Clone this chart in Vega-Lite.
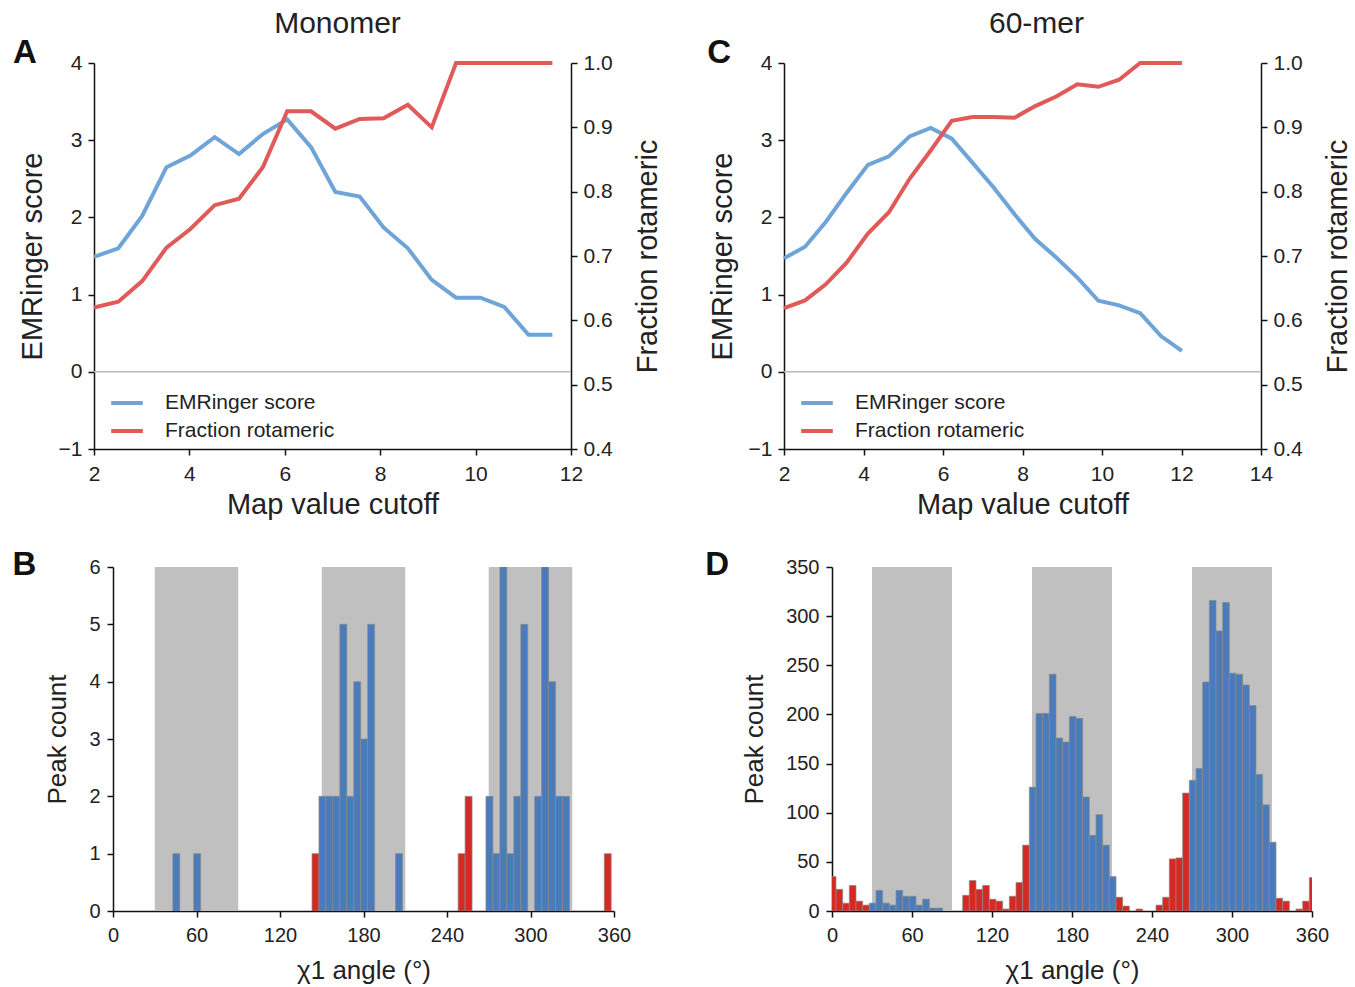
{
  "$schema": "https://vega.github.io/schema/vega-lite/v6.json",
  "background": "white",
  "padding": {"left": 11, "top": 9, "right": 2, "bottom": 2},
  "config": {
    "font": "Liberation Sans",
    "view": {"stroke": null},
    "axis": {
      "domainColor": "#111", "domainWidth": 1.5, "tickColor": "#111", "tickWidth": 1.5, "tickSize": 6,
      "labelFontSize": 21, "labelColor": "#222", "labelPadding": 6, "labelFlush": false,
      "titleFontSize": 29, "titleFontWeight": "normal", "titleColor": "#222", "titlePadding": 11, "grid": false
    },
    "axisBottom": {"labelPadding": 8, "titlePadding": 6, "labelFlush": false},
    "legend": {"labelLimit": 0},
    "title": {"fontSize": 30, "fontWeight": "normal", "color": "#222", "offset": -2}
  },
  "resolve": {"scale": {"color": "independent"}, "legend": {"color": "independent"}},
  "spacing": 30,
  "vconcat": [
    {
      "spacing": 0,
      "resolve": {"scale": {"color": "independent"}, "legend": {"color": "independent"}},
      "hconcat": [
        {"width": 1, "height": 1, "data": {"values": [{}]}, "mark": {"type": "text"}, "encoding": {"text": {"value": ""}}},
        {
          "hconcat": [
            {
              "width": 477, "height": 386,
              "title": {"text": "Monomer", "dx": 5},
              "data": {"values": [
                {"cutoff": 2.00, "score": 1.49, "frac": 0.620},
                {"cutoff": 2.51, "score": 1.60, "frac": 0.629},
                {"cutoff": 3.01, "score": 2.02, "frac": 0.661},
                {"cutoff": 3.52, "score": 2.65, "frac": 0.713},
                {"cutoff": 4.02, "score": 2.80, "frac": 0.742},
                {"cutoff": 4.53, "score": 3.04, "frac": 0.779},
                {"cutoff": 5.04, "score": 2.82, "frac": 0.789},
                {"cutoff": 5.54, "score": 3.08, "frac": 0.838},
                {"cutoff": 6.05, "score": 3.27, "frac": 0.925},
                {"cutoff": 6.55, "score": 2.91, "frac": 0.925},
                {"cutoff": 7.06, "score": 2.33, "frac": 0.898},
                {"cutoff": 7.57, "score": 2.27, "frac": 0.913},
                {"cutoff": 8.07, "score": 1.87, "frac": 0.914},
                {"cutoff": 8.58, "score": 1.60, "frac": 0.935},
                {"cutoff": 9.08, "score": 1.19, "frac": 0.900},
                {"cutoff": 9.59, "score": 0.96, "frac": 1.0},
                {"cutoff": 10.10, "score": 0.96, "frac": 1.0},
                {"cutoff": 10.60, "score": 0.84, "frac": 1.0},
                {"cutoff": 11.11, "score": 0.48, "frac": 1.0},
                {"cutoff": 11.61, "score": 0.48, "frac": 1.0}
              ]},
              "layer": [
                {
                  "layer": [
                    {
                      "data": {"values": [{}]},
                      "mark": {"type": "rule", "color": "#b8b8b8", "strokeWidth": 1.5},
                      "encoding": {"y": {"datum": 0, "type": "quantitative", "scale": {"domain": [-1, 4], "nice": false},
                              "axis": {"values": [-1, 0, 1, 2, 3, 4], "title": "EMRinger score", "format": "d"}}}
                    },
                    {
                      "mark": {"type": "line", "strokeWidth": 4},
                      "encoding": {
                        "x": {"field": "cutoff", "type": "quantitative", "scale": {"domain": [2, 12], "nice": false, "zero": false},
                              "axis": {"values": [2, 4, 6, 8, 10, 12], "title": "Map value cutoff", "format": "d"}},
                        "y": {"field": "score", "type": "quantitative", "scale": {"domain": [-1, 4], "nice": false},
                              "axis": {"values": [-1, 0, 1, 2, 3, 4], "title": "EMRinger score", "format": "d"}},
                        "color": {"datum": "EMRinger score", "type": "nominal",
                                  "scale": {"domain": ["EMRinger score", "Fraction rotameric"], "range": ["#6fa4d8", "#e05a5a"]},
                                  "legend": {"orient": "none", "legendX": 15, "legendY": 322, "title": null, "symbolType": "stroke",
                                             "symbolStrokeWidth": 4, "symbolSize": 1000, "labelFontSize": 21, "labelOffset": 20,
                                             "rowPadding": 0, "labelColor": "#222", "labelLimit": 0}}
                      }
                    },
                    {
                      "data": {"values": [{}]},
                      "mark": {"type": "text", "fontSize": 33, "fontWeight": "bold", "align": "center", "baseline": "alphabetic", "color": "#111"},
                      "encoding": {
                        "x": {"datum": 0.55, "type": "quantitative", "scale": {"domain": [2, 12], "nice": false, "zero": false},
                              "axis": {"values": [2, 4, 6, 8, 10, 12], "title": "Map value cutoff", "format": "d"}},
                        "y": {"datum": 4.0, "type": "quantitative", "scale": {"domain": [-1, 4], "nice": false},
                              "axis": {"values": [-1, 0, 1, 2, 3, 4], "title": "EMRinger score", "format": "d"}},
                        "text": {"value": "A"}
                      }
                    }
                  ]
                },
                {
                  "mark": {"type": "line", "strokeWidth": 4},
                  "encoding": {
                    "x": {"field": "cutoff", "type": "quantitative", "scale": {"domain": [2, 12], "nice": false, "zero": false},
                          "axis": {"values": [2, 4, 6, 8, 10, 12], "title": "Map value cutoff", "format": "d"}},
                    "y": {"field": "frac", "type": "quantitative", "scale": {"domain": [0.4, 1.0], "nice": false, "zero": false},
                          "axis": {"orient": "right", "values": [0.4, 0.5, 0.6, 0.7, 0.8, 0.9, 1.0], "format": ".1f",
                                   "title": "Fraction rotameric", "titleAngle": 270, "titleBaseline": "top", "titlePadding": 21}},
                    "color": {"datum": "Fraction rotameric", "type": "nominal"}
                  }
                }
              ],
              "resolve": {"scale": {"y": "independent"}}
            },
            {
              "width": 477, "height": 386,
              "title": {"text": "60-mer", "dx": 14},
              "data": {"values": [
                {"cutoff": 2.00, "score": 1.47, "frac": 0.619},
                {"cutoff": 2.53, "score": 1.62, "frac": 0.631},
                {"cutoff": 3.05, "score": 1.94, "frac": 0.656},
                {"cutoff": 3.58, "score": 2.32, "frac": 0.690},
                {"cutoff": 4.11, "score": 2.68, "frac": 0.735},
                {"cutoff": 4.64, "score": 2.79, "frac": 0.768},
                {"cutoff": 5.16, "score": 3.05, "frac": 0.820},
                {"cutoff": 5.69, "score": 3.16, "frac": 0.864},
                {"cutoff": 6.22, "score": 3.02, "frac": 0.910},
                {"cutoff": 6.74, "score": 2.71, "frac": 0.916},
                {"cutoff": 7.27, "score": 2.39, "frac": 0.916},
                {"cutoff": 7.80, "score": 2.04, "frac": 0.915},
                {"cutoff": 8.32, "score": 1.72, "frac": 0.933},
                {"cutoff": 8.85, "score": 1.48, "frac": 0.948},
                {"cutoff": 9.38, "score": 1.22, "frac": 0.967},
                {"cutoff": 9.91, "score": 0.92, "frac": 0.963},
                {"cutoff": 10.43, "score": 0.86, "frac": 0.974},
                {"cutoff": 10.96, "score": 0.76, "frac": 1.0},
                {"cutoff": 11.49, "score": 0.46, "frac": 1.0},
                {"cutoff": 12.01, "score": 0.27, "frac": 1.0}
              ]},
              "layer": [
                {
                  "layer": [
                    {
                      "data": {"values": [{}]},
                      "mark": {"type": "rule", "color": "#b8b8b8", "strokeWidth": 1.5},
                      "encoding": {"y": {"datum": 0, "type": "quantitative", "scale": {"domain": [-1, 4], "nice": false},
                              "axis": {"values": [-1, 0, 1, 2, 3, 4], "title": "EMRinger score", "format": "d"}}}
                    },
                    {
                      "mark": {"type": "line", "strokeWidth": 4},
                      "encoding": {
                        "x": {"field": "cutoff", "type": "quantitative", "scale": {"domain": [2, 14], "nice": false, "zero": false},
                              "axis": {"values": [2, 4, 6, 8, 10, 12, 14], "title": "Map value cutoff", "format": "d"}},
                        "y": {"field": "score", "type": "quantitative", "scale": {"domain": [-1, 4], "nice": false},
                              "axis": {"values": [-1, 0, 1, 2, 3, 4], "title": "EMRinger score", "format": "d"}},
                        "color": {"datum": "EMRinger score", "type": "nominal",
                                  "scale": {"domain": ["EMRinger score", "Fraction rotameric"], "range": ["#6fa4d8", "#e05a5a"]},
                                  "legend": {"orient": "none", "legendX": 15, "legendY": 322, "title": null, "symbolType": "stroke",
                                             "symbolStrokeWidth": 4, "symbolSize": 1000, "labelFontSize": 21, "labelOffset": 20,
                                             "rowPadding": 0, "labelColor": "#222", "labelLimit": 0}}
                      }
                    },
                    {
                      "data": {"values": [{}]},
                      "mark": {"type": "text", "fontSize": 33, "fontWeight": "bold", "align": "center", "baseline": "alphabetic", "color": "#111"},
                      "encoding": {
                        "x": {"datum": 0.37, "type": "quantitative", "scale": {"domain": [2, 14], "nice": false, "zero": false},
                              "axis": {"values": [2, 4, 6, 8, 10, 12, 14], "title": "Map value cutoff", "format": "d"}},
                        "y": {"datum": 4.0, "type": "quantitative", "scale": {"domain": [-1, 4], "nice": false},
                              "axis": {"values": [-1, 0, 1, 2, 3, 4], "title": "EMRinger score", "format": "d"}},
                        "text": {"value": "C"}
                      }
                    }
                  ]
                },
                {
                  "mark": {"type": "line", "strokeWidth": 4},
                  "encoding": {
                    "x": {"field": "cutoff", "type": "quantitative", "scale": {"domain": [2, 14], "nice": false, "zero": false},
                          "axis": {"values": [2, 4, 6, 8, 10, 12, 14], "title": "Map value cutoff", "format": "d"}},
                    "y": {"field": "frac", "type": "quantitative", "scale": {"domain": [0.4, 1.0], "nice": false, "zero": false},
                          "axis": {"orient": "right", "values": [0.4, 0.5, 0.6, 0.7, 0.8, 0.9, 1.0], "format": ".1f",
                                   "title": "Fraction rotameric", "titleAngle": 270, "titleBaseline": "top", "titlePadding": 21}},
                    "color": {"datum": "Fraction rotameric", "type": "nominal"}
                  }
                }
              ],
              "resolve": {"scale": {"y": "independent"}}
            }
          ],
          "spacing": 44,
          "resolve": {"scale": {"color": "independent"}, "legend": {"color": "independent"}}
        }
      ]
    },
    {
      "spacing": 0,
      "resolve": {"scale": {"color": "independent"}, "legend": {"color": "independent"}},
      "hconcat": [
        {"width": 1, "height": 1, "data": {"values": [{}]}, "mark": {"type": "text"}, "encoding": {"text": {"value": ""}}},
        {
          "hconcat": [
            {
              "width": 501, "height": 344,
              "encoding": {
                "x": {"type": "quantitative", "scale": {"domain": [0, 360], "nice": false, "zero": false},
                      "axis": {"values": [0, 60, 120, 180, 240, 300, 360], "title": "χ1 angle (°)", "labelFontSize": 20, "titleFontSize": 26, "titlePadding": 12}},
                "y": {"type": "quantitative", "scale": {"domain": [0, 6], "nice": false},
                      "axis": {"values": [0, 1, 2, 3, 4, 5, 6], "title": "Peak count", "labelFontSize": 20, "titleFontSize": 26, "labelPadding": 7, "titlePadding": 18}}
              },
              "layer": [
                {
                  "data": {"values": [{"start": 30, "end": 90}, {"start": 150, "end": 210}, {"start": 270, "end": 330}]},
                  "mark": {"type": "rect", "color": "#c0c0c0"},
                  "encoding": {
                    "x": {"field": "start", "type": "quantitative"},
                    "x2": {"field": "end"}
                  }
                },
                {
                  "data": {"values": [
                    {"start": 43, "end": 48, "count": 1, "type": "rotameric"},
                    {"start": 58, "end": 63, "count": 1, "type": "rotameric"},
                    {"start": 143, "end": 148, "count": 1, "type": "non-rotameric"},
                    {"start": 148, "end": 153, "count": 2, "type": "rotameric"},
                    {"start": 153, "end": 158, "count": 2, "type": "rotameric"},
                    {"start": 158, "end": 163, "count": 2, "type": "rotameric"},
                    {"start": 163, "end": 168, "count": 5, "type": "rotameric"},
                    {"start": 168, "end": 173, "count": 2, "type": "rotameric"},
                    {"start": 173, "end": 178, "count": 4, "type": "rotameric"},
                    {"start": 178, "end": 183, "count": 3, "type": "rotameric"},
                    {"start": 183, "end": 188, "count": 5, "type": "rotameric"},
                    {"start": 203, "end": 208, "count": 1, "type": "rotameric"},
                    {"start": 248, "end": 253, "count": 1, "type": "non-rotameric"},
                    {"start": 253, "end": 258, "count": 2, "type": "non-rotameric"},
                    {"start": 268, "end": 273, "count": 2, "type": "rotameric"},
                    {"start": 273, "end": 278, "count": 1, "type": "rotameric"},
                    {"start": 278, "end": 283, "count": 6, "type": "rotameric"},
                    {"start": 283, "end": 288, "count": 1, "type": "rotameric"},
                    {"start": 288, "end": 293, "count": 2, "type": "rotameric"},
                    {"start": 293, "end": 298, "count": 5, "type": "rotameric"},
                    {"start": 303, "end": 308, "count": 2, "type": "rotameric"},
                    {"start": 308, "end": 313, "count": 6, "type": "rotameric"},
                    {"start": 313, "end": 318, "count": 4, "type": "rotameric"},
                    {"start": 318, "end": 323, "count": 2, "type": "rotameric"},
                    {"start": 323, "end": 328, "count": 2, "type": "rotameric"},
                    {"start": 353, "end": 358, "count": 1, "type": "non-rotameric"}
                  ]},
                  "mark": {"type": "rect", "stroke": "#8a8a8a", "strokeWidth": 0.7, "clip": true},
                  "encoding": {
                    "x": {"field": "start", "type": "quantitative"},
                    "x2": {"field": "end"},
                    "y": {"field": "count", "type": "quantitative"},
                    "y2": {"datum": 0},
                    "color": {"field": "type", "type": "nominal",
                              "scale": {"domain": ["rotameric", "non-rotameric"], "range": ["#4a7cbc", "#d42a22"]}, "legend": null}
                  }
                },
                {
                  "data": {"values": [{}]},
                  "mark": {"type": "text", "fontSize": 33, "fontWeight": "bold", "align": "center", "baseline": "alphabetic", "color": "#111"},
                  "encoding": {
                    "x": {"datum": -63.7, "type": "quantitative"},
                    "y": {"datum": 5.86, "type": "quantitative"},
                    "text": {"value": "B"}
                  }
                }
              ]
            },
            {
              "width": 480, "height": 344,
              "encoding": {
                "x": {"type": "quantitative", "scale": {"domain": [0, 360], "nice": false, "zero": false},
                      "axis": {"values": [0, 60, 120, 180, 240, 300, 360], "title": "χ1 angle (°)", "labelFontSize": 20, "titleFontSize": 26, "titlePadding": 12}},
                "y": {"type": "quantitative", "scale": {"domain": [0, 350], "nice": false},
                      "axis": {"values": [0, 50, 100, 150, 200, 250, 300, 350], "title": "Peak count", "labelFontSize": 20, "titleFontSize": 26, "labelPadding": 7, "titlePadding": 18}}
              },
              "layer": [
                {
                  "data": {"values": [{"start": 30, "end": 90}, {"start": 150, "end": 210}, {"start": 270, "end": 330}]},
                  "mark": {"type": "rect", "color": "#c0c0c0"},
                  "encoding": {
                    "x": {"field": "start", "type": "quantitative"},
                    "x2": {"field": "end"}
                  }
                },
                {
                  "data": {"values": [
                    {"start": -2, "end": 3, "count": 35, "type": "non-rotameric"},
                    {"start": 3, "end": 8, "count": 22, "type": "non-rotameric"},
                    {"start": 8, "end": 13, "count": 8, "type": "non-rotameric"},
                    {"start": 13, "end": 18, "count": 26, "type": "non-rotameric"},
                    {"start": 18, "end": 23, "count": 10, "type": "non-rotameric"},
                    {"start": 23, "end": 28, "count": 6, "type": "non-rotameric"},
                    {"start": 28, "end": 33, "count": 8, "type": "rotameric"},
                    {"start": 33, "end": 38, "count": 21, "type": "rotameric"},
                    {"start": 38, "end": 43, "count": 8, "type": "rotameric"},
                    {"start": 43, "end": 48, "count": 6, "type": "rotameric"},
                    {"start": 48, "end": 53, "count": 21, "type": "rotameric"},
                    {"start": 53, "end": 58, "count": 15, "type": "rotameric"},
                    {"start": 58, "end": 63, "count": 15, "type": "rotameric"},
                    {"start": 63, "end": 68, "count": 6, "type": "rotameric"},
                    {"start": 68, "end": 73, "count": 12, "type": "rotameric"},
                    {"start": 73, "end": 78, "count": 3, "type": "rotameric"},
                    {"start": 78, "end": 83, "count": 3, "type": "rotameric"},
                    {"start": 98, "end": 103, "count": 16, "type": "non-rotameric"},
                    {"start": 103, "end": 108, "count": 31, "type": "non-rotameric"},
                    {"start": 108, "end": 113, "count": 22, "type": "non-rotameric"},
                    {"start": 113, "end": 118, "count": 26, "type": "non-rotameric"},
                    {"start": 118, "end": 123, "count": 12, "type": "non-rotameric"},
                    {"start": 123, "end": 128, "count": 10, "type": "non-rotameric"},
                    {"start": 128, "end": 133, "count": 2, "type": "non-rotameric"},
                    {"start": 133, "end": 138, "count": 15, "type": "non-rotameric"},
                    {"start": 138, "end": 143, "count": 29, "type": "non-rotameric"},
                    {"start": 143, "end": 148, "count": 67, "type": "non-rotameric"},
                    {"start": 148, "end": 153, "count": 126, "type": "rotameric"},
                    {"start": 153, "end": 158, "count": 201, "type": "rotameric"},
                    {"start": 158, "end": 163, "count": 201, "type": "rotameric"},
                    {"start": 163, "end": 168, "count": 241, "type": "rotameric"},
                    {"start": 168, "end": 173, "count": 176, "type": "rotameric"},
                    {"start": 173, "end": 178, "count": 172, "type": "rotameric"},
                    {"start": 178, "end": 183, "count": 198, "type": "rotameric"},
                    {"start": 183, "end": 188, "count": 196, "type": "rotameric"},
                    {"start": 188, "end": 193, "count": 116, "type": "rotameric"},
                    {"start": 193, "end": 198, "count": 77, "type": "rotameric"},
                    {"start": 198, "end": 203, "count": 98, "type": "rotameric"},
                    {"start": 203, "end": 208, "count": 67, "type": "rotameric"},
                    {"start": 208, "end": 213, "count": 35, "type": "rotameric"},
                    {"start": 213, "end": 218, "count": 14, "type": "non-rotameric"},
                    {"start": 218, "end": 223, "count": 5, "type": "non-rotameric"},
                    {"start": 228, "end": 233, "count": 2, "type": "non-rotameric"},
                    {"start": 243, "end": 248, "count": 6, "type": "non-rotameric"},
                    {"start": 248, "end": 253, "count": 14, "type": "non-rotameric"},
                    {"start": 253, "end": 258, "count": 53, "type": "non-rotameric"},
                    {"start": 258, "end": 263, "count": 54, "type": "non-rotameric"},
                    {"start": 263, "end": 268, "count": 120, "type": "non-rotameric"},
                    {"start": 268, "end": 273, "count": 133, "type": "rotameric"},
                    {"start": 273, "end": 278, "count": 145, "type": "rotameric"},
                    {"start": 278, "end": 283, "count": 233, "type": "rotameric"},
                    {"start": 283, "end": 288, "count": 316, "type": "rotameric"},
                    {"start": 288, "end": 293, "count": 285, "type": "rotameric"},
                    {"start": 293, "end": 298, "count": 314, "type": "rotameric"},
                    {"start": 298, "end": 303, "count": 242, "type": "rotameric"},
                    {"start": 303, "end": 308, "count": 241, "type": "rotameric"},
                    {"start": 308, "end": 313, "count": 230, "type": "rotameric"},
                    {"start": 313, "end": 318, "count": 209, "type": "rotameric"},
                    {"start": 318, "end": 323, "count": 139, "type": "rotameric"},
                    {"start": 323, "end": 328, "count": 108, "type": "rotameric"},
                    {"start": 328, "end": 333, "count": 70, "type": "rotameric"},
                    {"start": 333, "end": 338, "count": 13, "type": "non-rotameric"},
                    {"start": 338, "end": 343, "count": 10, "type": "non-rotameric"},
                    {"start": 348, "end": 353, "count": 2, "type": "non-rotameric"},
                    {"start": 353, "end": 358, "count": 10, "type": "non-rotameric"},
                    {"start": 358, "end": 363, "count": 34, "type": "non-rotameric"}
                  ]},
                  "mark": {"type": "rect", "stroke": "#8a8a8a", "strokeWidth": 0.7, "clip": true},
                  "encoding": {
                    "x": {"field": "start", "type": "quantitative"},
                    "x2": {"field": "end"},
                    "y": {"field": "count", "type": "quantitative"},
                    "y2": {"datum": 0},
                    "color": {"field": "type", "type": "nominal",
                              "scale": {"domain": ["rotameric", "non-rotameric"], "range": ["#4a7cbc", "#d42a22"]}, "legend": null}
                  }
                },
                {
                  "data": {"values": [{}]},
                  "mark": {"type": "text", "fontSize": 33, "fontWeight": "bold", "align": "center", "baseline": "alphabetic", "color": "#111"},
                  "encoding": {
                    "x": {"datum": -86.1, "type": "quantitative"},
                    "y": {"datum": 341.8, "type": "quantitative"},
                    "text": {"value": "D"}
                  }
                }
              ]
            }
          ],
          "spacing": 74,
          "resolve": {"scale": {"color": "independent"}, "legend": {"color": "independent"}}
        }
      ]
    }
  ]
}
